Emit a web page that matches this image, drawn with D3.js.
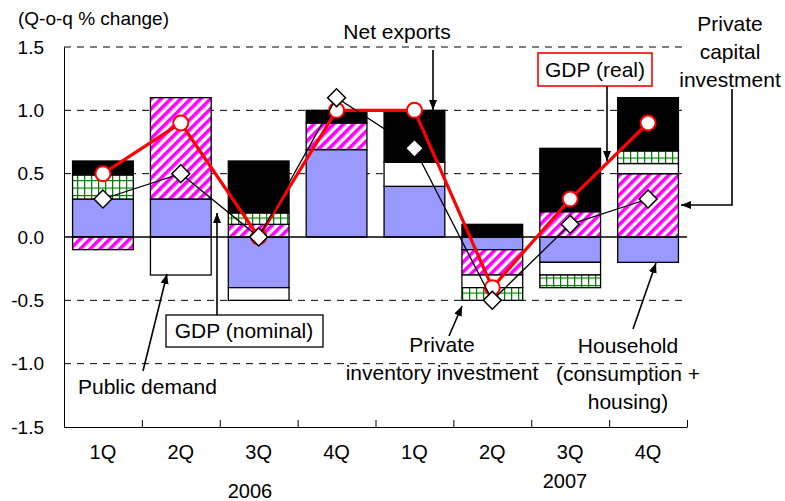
<!DOCTYPE html>
<meta charset="utf-8">
<head>
<script src="https://d3js.org/d3.v7.min.js"></script>
<style>
body { margin: 0; background: #fff; }
text { font-family: "Liberation Sans", Arial, sans-serif; fill: #000; }
</style>
</head>
<body>
<div id="chart"></div>
<script>
// quarter-on-quarter contributions (% points)
var quarters   = ["1Q", "2Q", "3Q", "4Q", "1Q", "2Q", "3Q", "4Q"];
var household  = [0.30, 0.30, -0.40, 0.69, 0.40, -0.10, -0.20, -0.20];
var capitalInv = [-0.10, 0.80, 0.10, 0.21, 0.00, -0.20, 0.20, 0.50];
var publicDem  = [0.00, -0.30, -0.10, 0.00, 0.19, -0.10, -0.10, 0.08];
var inventory  = [0.19, 0.00, 0.09, 0.00, 0.00, -0.10, -0.10, 0.10];
var netExports = [0.11, 0.00, 0.41, 0.10, 0.41, 0.10, 0.50, 0.42];
var gdpReal    = [0.5, 0.9, 0.0, 1.0, 1.0, -0.4, 0.3, 0.9];
var gdpNominal = [0.3, 0.5, 0.0, 1.1, 0.7, -0.5, 0.1, 0.3];
var yTicks     = [-1.5, -1.0, -0.5, 0.0, 0.5, 1.0, 1.5];

var W = 785, H = 501;
var margin = {top: 47, right: 98, bottom: 74, left: 64};

var svg = d3.select("#chart").append("svg")
    .attr("width", W)
    .attr("height", H);

var defs = svg.append("defs");

// magenta diagonal hatch
var hatch = defs.append("pattern")
    .attr("id", "hatch")
    .attr("patternUnits", "userSpaceOnUse")
    .attr("width", 7).attr("height", 7)
    .attr("patternTransform", "rotate(45)");
hatch.append("rect").attr("width", 7).attr("height", 7).attr("fill", "#fff");
hatch.append("rect").attr("width", 3.6).attr("height", 7).attr("fill", "#ff00ff");

// green grid
var grid = defs.append("pattern")
    .attr("id", "grid")
    .attr("patternUnits", "userSpaceOnUse")
    .attr("width", 7).attr("height", 7.5);
grid.append("rect").attr("width", 7).attr("height", 7.5).attr("fill", "#fff");
grid.append("path").attr("d", "M0,0H7M0,0V7.5")
    .attr("stroke", "#008000").attr("stroke-width", 2.5).attr("fill", "none");

defs.append("marker")
    .attr("id", "arrow")
    .attr("viewBox", "0 0 10 8")
    .attr("refX", 10).attr("refY", 4)
    .attr("markerWidth", 10).attr("markerHeight", 8)
    .attr("markerUnits", "userSpaceOnUse")
    .attr("orient", "auto")
  .append("path").attr("d", "M0,0L10,4L0,8Z").attr("fill", "#000");

var x = d3.scaleBand()
    .domain(d3.range(quarters.length))
    .range([margin.left, W - margin.right])
    .paddingInner(0.22)
    .paddingOuter(0.11);

var y = d3.scaleLinear()
    .domain([-1.5, 1.5])
    .range([H - margin.bottom, margin.top]);

// dashed gridlines
svg.append("g")
  .selectAll("line")
  .data(yTicks.filter(function(d) { return d !== 0 && d !== -1.5; }))
  .enter().append("line")
    .attr("x1", margin.left).attr("x2", W - margin.right)
    .attr("y1", function(d) { return y(d); })
    .attr("y2", function(d) { return y(d); })
    .attr("stroke", "#000")
    .attr("stroke-width", 1)
    .attr("stroke-dasharray", "7,6");

// stacked bars
var keys = ["household", "capital", "public", "inventory", "net"];
var fills = {household: "#9999ff", capital: "url(#hatch)", public: "#fff",
             inventory: "url(#grid)", net: "#000"};
var rows = quarters.map(function(q, i) {
  return {i: i, household: household[i], capital: capitalInv[i],
          public: publicDem[i], inventory: inventory[i], net: netExports[i]};
});
var stacked = d3.stack().keys(keys).offset(d3.stackOffsetDiverging)(rows);

svg.append("g")
  .selectAll("g")
  .data(stacked)
  .enter().append("g")
    .attr("fill", function(s) { return fills[s.key]; })
  .selectAll("rect")
  .data(function(s) { return s.filter(function(d) { return d[1] !== d[0]; }); })
  .enter().append("rect")
    .attr("x", function(d) { return x(d.data.i); })
    .attr("width", x.bandwidth())
    .attr("y", function(d) { return y(d[1]); })
    .attr("height", function(d) { return y(d[0]) - y(d[1]); })
    .attr("stroke", "#000")
    .attr("stroke-width", 1.3);

// zero line
svg.append("line")
    .attr("x1", margin.left).attr("x2", W - margin.right)
    .attr("y1", y(0)).attr("y2", y(0))
    .attr("stroke", "#000").attr("stroke-width", 1.3);

// y axis
var yAxis = svg.append("g")
    .attr("transform", "translate(" + margin.left + ",0)")
    .call(d3.axisLeft(y).tickValues(yTicks).tickSize(0).tickSizeOuter(0)
      .tickPadding(20).tickFormat(function(d) { return d.toFixed(1); }));
yAxis.select(".domain").attr("stroke", "#000");
yAxis.selectAll("text")
    .style("font-family", "'Liberation Sans', Arial, sans-serif")
    .style("font-size", "19px")
    .attr("fill", function(d) { return d < 0 ? "#ff0000" : "#000"; });

// x axis (band boundaries)
var xt = d3.scaleLinear().domain([0, quarters.length]).range([margin.left, W - margin.right]);
svg.append("g")
    .attr("transform", "translate(0," + (H - margin.bottom) + ")")
    .call(d3.axisBottom(xt).tickValues(d3.range(quarters.length + 1))
      .tickSize(-7).tickSizeOuter(0).tickFormat(""))
    .selectAll("line, path").attr("stroke", "#000");

svg.append("g")
  .selectAll("text")
  .data(quarters)
  .enter().append("text")
    .attr("x", function(d, i) { return x(i) + x.bandwidth() / 2; })
    .attr("y", 459)
    .attr("text-anchor", "middle")
    .style("font-size", "20px")
    .text(function(d) { return d; });

svg.append("text").attr("x", 250).attr("y", 498).attr("text-anchor", "middle")
    .style("font-size", "20px").text("2006");
svg.append("text").attr("x", 565).attr("y", 488).attr("text-anchor", "middle")
    .style("font-size", "20px").text("2007");

svg.append("text").attr("x", 18).attr("y", 25)
    .style("font-size", "19px").text("(Q-o-q % change)");

// GDP lines
var cx = function(d, i) { return x(i) + x.bandwidth() / 2; };
var line = d3.line().x(cx).y(function(d) { return y(d); });

svg.append("path").datum(gdpReal)
    .attr("d", line).attr("fill", "none")
    .attr("stroke", "#ff0000").attr("stroke-width", 3.2);
svg.append("g").selectAll("circle")
  .data(gdpReal).enter().append("circle")
    .attr("cx", cx).attr("cy", function(d) { return y(d); })
    .attr("r", 7.5)
    .attr("fill", "#fff").attr("stroke", "#ff0000").attr("stroke-width", 2);

svg.append("path").datum(gdpNominal)
    .attr("d", line).attr("fill", "none")
    .attr("stroke", "#000").attr("stroke-width", 1.3);
svg.append("g").selectAll("path")
  .data(gdpNominal).enter().append("path")
    .attr("d", d3.symbol().type(d3.symbolSquare).size(160))
    .attr("transform", function(d, i) { return "translate(" + cx(d, i) + "," + y(d) + ") rotate(45)"; })
    .attr("fill", "#fff").attr("stroke", "#000").attr("stroke-width", 1.5);

// annotations
var ann = svg.append("g").style("font-size", "21px");

function leader(d) {
  ann.append("path").attr("d", d).attr("fill", "none")
      .attr("stroke", "#000").attr("stroke-width", 1.6)
      .attr("marker-end", "url(#arrow)");
}

function label(lines, xc, y0, step, anchor) {
  lines.forEach(function(t, k) {
    ann.append("text").attr("x", xc).attr("y", y0 + k * step)
        .attr("text-anchor", anchor || "middle").text(t);
  });
}

label(["Net exports"], 397, 39, 0);
leader("M433,50V110");

ann.append("rect").attr("x", 538).attr("y", 53).attr("width", 114).attr("height", 33)
    .attr("fill", "#fff").attr("stroke", "#ff0000").attr("stroke-width", 1.6);
label(["GDP (real)"], 595, 77, 0);
leader("M607,86V161");

label(["Private", "capital", "investment"], 730, 31, 28);
leader("M732,89V205H681");

ann.append("rect").attr("x", 166).attr("y", 315).attr("width", 157).attr("height", 32)
    .attr("fill", "#fff").attr("stroke", "#000").attr("stroke-width", 1.3);
label(["GDP (nominal)"], 244, 338, 0);
leader("M217,315V213");

label(["Public demand"], 78, 394, 0, "start");
leader("M143,371L167,274");

label(["Private", "inventory investment"], 442, 352, 28);
leader("M449,336L462,306");

label(["Household", "(consumption +", "housing)"], 628, 353, 28);
leader("M633,329L656,263");
</script>
</body>
</html>
